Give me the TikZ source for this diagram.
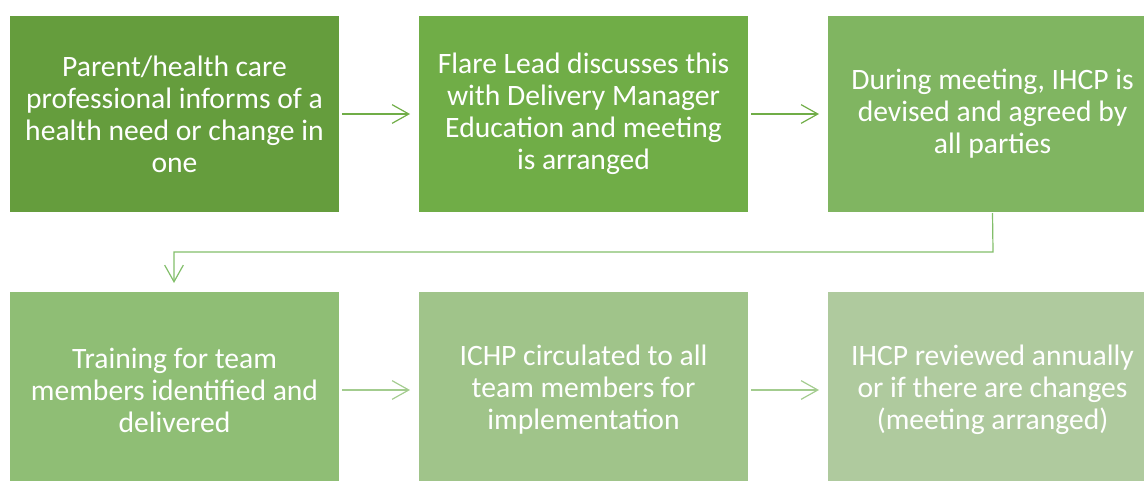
\documentclass[tikz,border=0pt]{standalone}
\usepackage{fontspec}
\setmainfont{Carlito}
\usetikzlibrary{arrows.meta}
\definecolor{cA}{HTML}{659D3D}
\definecolor{cB}{HTML}{70AD47}
\definecolor{cC}{HTML}{80B561}
\definecolor{cD}{HTML}{8FBE75}
\definecolor{cE}{HTML}{A0C48A}
\definecolor{cF}{HTML}{AFCA9E}
\definecolor{aA}{HTML}{70AD47}
\definecolor{aB}{HTML}{82BE6A}
\definecolor{aC}{HTML}{A3CC8F}
\tikzset{
  stepbox/.style={draw=none, minimum width=329*0.75pt, minimum height=196*0.75pt,
    inner sep=0pt, outer sep=0pt, anchor=north west, text=white, align=center,
    font=\fontsize{22.2}{24}\selectfont},
  flowarrow/.style={line width=0.9pt, -{Straight Barb[length=12.5pt, width=14pt, line width=0.9pt]}},
}
\begin{document}
\begin{tikzpicture}[x=0.75pt, y=-0.75pt]
\useasboundingbox (0,0) rectangle (1144,481);
\clip (0,0) rectangle (1144,481);
\node[stepbox, fill=cA] (b1) at (10,16) {Parent/health care\\professional informs of a\\health need or change in\\one};
\node[stepbox, fill=cB] (b2) at (419,16) {Flare Lead discusses this\\with Delivery Manager\\Education and meeting\\is arranged};
\node[stepbox, fill=cC] (b3) at (828,16) {During meeting, IHCP is\\devised and agreed by\\all parties};
\node[stepbox, fill=cD] (b4) at (10,292) {Training for team\\members identified and\\delivered};
\node[stepbox, fill=cE] (b5) at (419,292) {ICHP circulated to all\\team members for\\implementation};
\node[stepbox, fill=cF] (b6) at (828,292) {IHCP reviewed annually\\or if there are changes\\(meeting arranged)};
\coordinate (bend1) at (993,252);
\coordinate (bend2) at (174,252);
\draw[flowarrow, draw=aA] ([xshift=3*0.75pt]b1.east) -- ([xshift=-9*0.75pt]b2.west);
\draw[flowarrow, draw=aA] ([xshift=3*0.75pt]b2.east) -- ([xshift=-9*0.75pt]b3.west);
\draw[flowarrow, draw=aB] ([yshift=-1*0.75pt]b3.south) -- (bend1) -- (bend2) -- ([yshift=9*0.75pt]b4.north -| bend2);
\draw[flowarrow, draw=aC] ([xshift=3*0.75pt]b4.east) -- ([xshift=-9*0.75pt]b5.west);
\draw[flowarrow, draw=aC] ([xshift=3*0.75pt]b5.east) -- ([xshift=-9*0.75pt]b6.west);
\end{tikzpicture}
\end{document}
